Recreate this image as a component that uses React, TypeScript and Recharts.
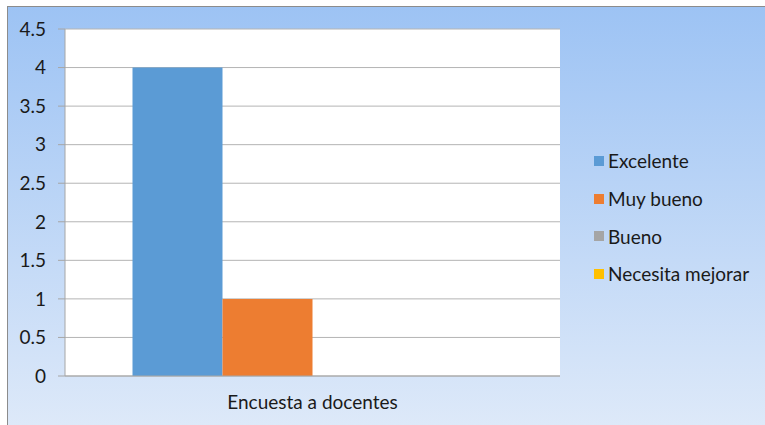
import { BarChart, Bar, XAxis, YAxis, CartesianGrid, Legend } from "recharts";

// Encuesta a docentes — una sola categoría, cuatro niveles
const categories = ["Encuesta a docentes"];
const seriesNames = ["Excelente", "Muy bueno", "Bueno", "Necesita mejorar"];
const seriesValues = [4, 1, 0, 0];
const seriesColors = ["#5b9bd5", "#ed7d31", "#a5a5a5", "#ffc000"];
const yTicks = [0, 0.5, 1, 1.5, 2, 2.5, 3, 3.5, 4, 4.5];

const data = categories.map((name) => {
  const row: Record<string, string | number> = { name };
  seriesNames.forEach((s, i) => (row[s] = seriesValues[i]));
  return row;
});

const FONT = "Lato, 'Open Sans', sans-serif";
const FS = 19;
const TEXT = "#1a1a1a";
const AXIS = "#a6a6a6";
const GRID = "#b4b4b4";

function LegendList(props: any) {
  // keep the series order, not the alphabetical one
  const items = [...(props.payload || [])].sort(
    (a: any, b: any) => seriesNames.indexOf(a.value) - seriesNames.indexOf(b.value)
  );
  return (
    <div style={{ fontFamily: FONT, fontSize: FS, color: TEXT }}>
      {items.map((it: any) => (
        <div key={it.value} style={{ height: 37.7, display: "flex", alignItems: "center", whiteSpace: "nowrap" }}>
          <span style={{ width: 10, height: 10, background: it.color, marginRight: 4, display: "inline-block" }} />
          {it.value}
        </div>
      ))}
    </div>
  );
}

export default function App() {
  return (
    <div
      style={{
        position: "absolute",
        left: 7,
        top: 6,
        width: 770,
        height: 430,
        borderTop: "1px solid #8c8c8c",
        borderLeft: "1px solid #8c8c8c",
        background: "linear-gradient(to bottom, #9dc3f4 0%, #dfeaf9 100%)",
        overflow: "hidden",
      }}
    >
      <BarChart
        width={757}
        height={418}
        data={data}
        margin={{ top: 22, right: 5, left: 0, bottom: 19 }}
        barCategoryGap={67.5}
        barGap={0}
      >
        <CartesianGrid vertical={false} stroke={GRID} fill="#ffffff" fillOpacity={1} />
        <XAxis
          xAxisId="edge"
          type="number"
          domain={[0, 1]}
          ticks={[0, 1]}
          height={0}
          axisLine={false}
          tick={false}
          tickLine={{ stroke: AXIS }}
          tickSize={6}
        />
        <XAxis
          xAxisId="cat"
          dataKey="name"
          height={30}
          axisLine={{ stroke: AXIS }}
          tickLine={false}
          tickSize={0}
          tickMargin={20}
          tick={{ fill: TEXT, fontSize: FS, fontFamily: FONT }}
        />
        <YAxis
          width={57}
          domain={[0, 4.5]}
          ticks={yTicks}
          interval={0}
          axisLine={{ stroke: AXIS }}
          tickLine={{ stroke: AXIS }}
          tickSize={7}
          tickMargin={12}
          tick={{ fill: TEXT, fontSize: FS, fontFamily: FONT }}
        />
        <Legend
          layout="vertical"
          align="right"
          verticalAlign="middle"
          content={<LegendList />}
          wrapperStyle={{ width: 200, left: 586, top: 135 }}
        />
        {seriesNames.map((s, i) => (
          <Bar key={s} xAxisId="cat" dataKey={s} fill={seriesColors[i]} isAnimationActive={false} />
        ))}
      </BarChart>
    </div>
  );
}
